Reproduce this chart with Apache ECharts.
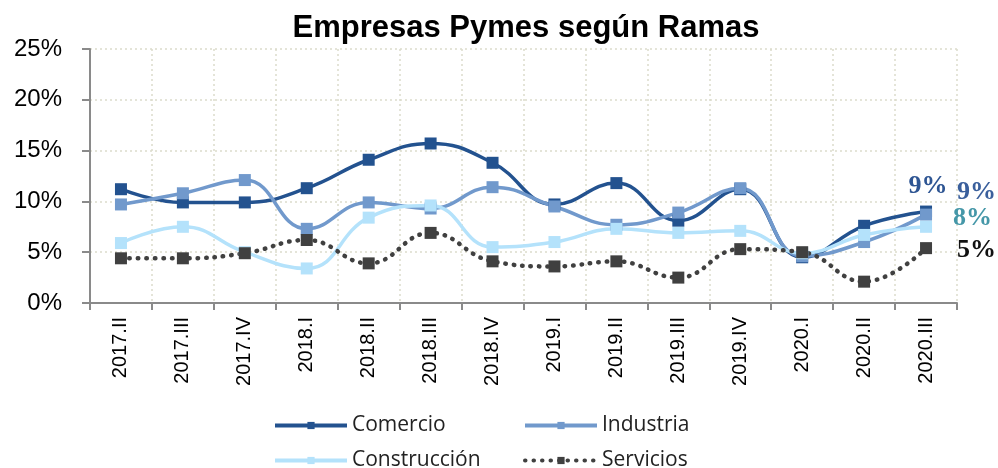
<!DOCTYPE html>
<html>
<head>
<meta charset="utf-8">
<script src="https://cdn.jsdelivr.net/npm/echarts@6/dist/echarts.min.js"></script>
<style>
  html, body { margin: 0; padding: 0; background: #fff; }
  #chart { width: 998px; height: 468px; }
</style>
</head>
<body>
<div id="chart"></div>
<script>
// trimestres
const categories = ["2017.II", "2017.III", "2017.IV", "2018.I", "2018.II", "2018.III", "2018.IV",
  "2019.I", "2019.II", "2019.III", "2019.IV", "2020.I", "2020.II", "2020.III"];
const yTicks = [0, 5, 10, 15, 20, 25];

// % de empresas por rama
const comercio = [11.2, 9.9, 9.9, 11.3, 14.1, 15.7, 13.8, 9.7, 11.8, 8.1, 11.2, 4.5, 7.6, 9.0];
const industria = [9.7, 10.8, 12.1, 7.3, 9.9, 9.3, 11.4, 9.5, 7.7, 8.9, 11.3, 4.6, 6.0, 8.7];
const construccion = [5.9, 7.5, 5.0, 3.4, 8.4, 9.6, 5.5, 6.0, 7.3, 6.9, 7.1, 4.9, 6.7, 7.5];
const servicios = [4.4, 4.4, 4.9, 6.2, 3.9, 6.9, 4.1, 3.6, 4.1, 2.5, 5.3, 5.0, 2.1, 5.4];

// etiquetas al final de cada serie
const endLabels = ["9%", "9%", "8%", "5%"];

const chart = echarts.init(document.getElementById("chart"));

function withEndLabel(values, text, color, position, offset) {
  return values.map((v, i) => {
    if (i !== values.length - 1) return v;
    return {
      value: v,
      label: {
        show: true,
        position: position,
        offset: offset,
        formatter: text,
        color: color,
        fontFamily: "Liberation Serif",
        fontWeight: "bold",
        fontSize: 26,
      },
    };
  });
}

function lineSeries(name, data, color, extra) {
  return Object.assign({
    name: name,
    type: "line",
    smooth: 0.45,
    symbol: "rect",
    symbolSize: 12,
    color: color,
    lineStyle: { width: 3.5, color: color },
    itemStyle: { color: color },
    data: data,
  }, extra || {});
}

const legendBase = {
  itemWidth: 72,
  itemHeight: 9,
  itemGap: 4,
  lineStyle: { width: 4 },
  textStyle: { fontFamily: "Open Sans", fontSize: 21, color: "#222" },
};

const option = {
  animation: false,
  title: {
    text: "Empresas Pymes según Ramas",
    left: 521,
    textAlign: "center",
    top: 8,
    textStyle: { fontFamily: "Liberation Sans", fontWeight: "bold", fontSize: 31, color: "#000" },
  },
  grid: { left: 90, right: 41, top: 49, bottom: 165 },
  legend: [
    Object.assign({ data: ["Comercio"], left: 268, top: 410 }, legendBase),
    Object.assign({ data: ["Industria"], left: 518, top: 410 }, legendBase),
    Object.assign({ data: ["Construcción"], left: 268, top: 445 }, legendBase),
    Object.assign({ data: ["Servicios"], left: 518, top: 445 }, legendBase),
  ],
  xAxis: {
    type: "category",
    data: categories,
    boundaryGap: true,
    axisLine: { lineStyle: { color: "#8a8a8a", width: 2 } },
    axisTick: { show: true, length: 7, lineStyle: { color: "#8a8a8a", width: 2 } },
    axisLabel: {
      rotate: 90,
      margin: 14,
      interval: 0,
      fontFamily: "Liberation Sans",
      fontSize: 20,
      color: "#000",
    },
    splitLine: { show: true, lineStyle: { type: [2, 3], color: "#dcdccc", width: 1.5 } },
  },
  yAxis: {
    type: "value",
    min: yTicks[0],
    max: yTicks[yTicks.length - 1],
    interval: 5,
    axisLine: { show: true, lineStyle: { color: "#8a8a8a", width: 2 } },
    axisTick: { show: true, length: 8, lineStyle: { color: "#8a8a8a", width: 2 } },
    axisLabel: {
      margin: 28,
      fontFamily: "Liberation Sans",
      fontSize: 24,
      color: "#000",
      formatter: (v) => v + "%",
    },
    splitLine: { show: true, lineStyle: { type: [2, 3], color: "#dcdccc", width: 1.5 } },
  },
  series: [
    lineSeries("Comercio", withEndLabel(comercio, endLabels[0], "#2e5593", "top", [2, -1]), "#23528f"),
    lineSeries("Industria", withEndLabel(industria, endLabels[1], "#3a5f9c", "right", [20, -22]), "#7199cc"),
    lineSeries("Construcción", withEndLabel(construccion, endLabels[2], "#4597a8", "right", [16, -9]), "#b4e2fb"),
    lineSeries("Servicios", withEndLabel(servicios, endLabels[3], "#111", "right", [20, 2]), "#404040", {
      lineStyle: { width: 4.5, color: "#404040", type: [0.5, 8], cap: "round" },
    }),
  ],
};

chart.setOption(option);
</script>
</body>
</html>
